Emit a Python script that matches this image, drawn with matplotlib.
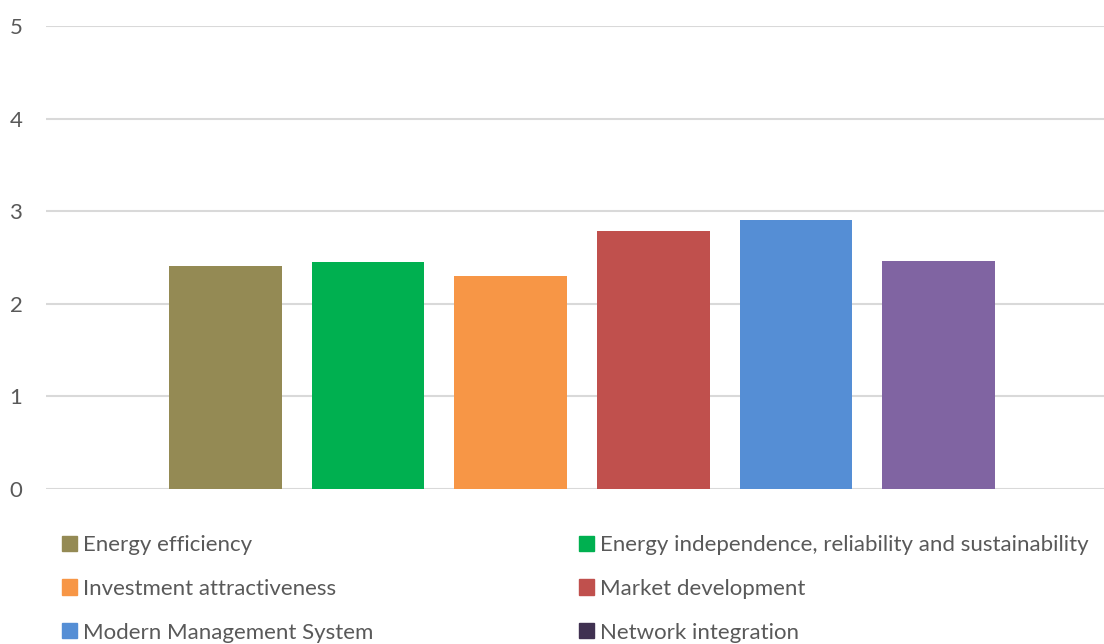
import matplotlib
matplotlib.use("Agg")
from matplotlib import pyplot as plt

# bar scores, in drawing order
bar_colors = ["#948A54", "#00B050", "#F79646", "#C0504D", "#558ED5", "#8064A2", "#403151"]
values = [2.41, 2.45, 2.30, 2.79, 2.90, 2.46, 0.0]

# legend entries (left column, then right column)
left_names = ["Energy efficiency", "Investment attractiveness", "Modern Management System"]
left_colors = ["#948A54", "#F79646", "#558ED5"]
right_names = ["Energy independence, reliability and sustainability",
               "Market development", "Network integration"]
right_colors = ["#00B050", "#C0504D", "#403151"]
yticks = [0, 1, 2, 3, 4, 5]

plt.rcParams['font.family'] = ['Lato', 'DejaVu Sans']
grey = "#595959"
fs = 16

fig = plt.figure(figsize=(11.04, 6.44), dpi=100)
ax = fig.add_axes([46/1104, 155/644, 1 - 46/1104, 463/644])

for i, (v, c) in enumerate(zip(values, bar_colors)):
    ax.bar(i, v, width=0.79, color=c, zorder=3)

ax.set_xlim(-1.259, 6.16)
ax.set_ylim(0, 5)
ax.set_yticks(yticks)
ax.set_xticks([])
ax.yaxis.grid(True, color="#D9D9D9", linewidth=1.5, zorder=0)
ax.tick_params(axis='y', length=0, pad=17, labelsize=fs, labelcolor=grey)
for s in ax.spines.values():
    s.set_visible(False)

# two legend columns, placed separately
opts = dict(frameon=False, fontsize=fs, handlelength=0.68, handleheight=0.68,
            handletextpad=0.25, labelspacing=1.07, borderpad=0, borderaxespad=0,
            labelcolor=grey, loc="upper left")
lh = [plt.Rectangle((0, 0), 1, 1, color=c) for c in left_colors]
rh = [plt.Rectangle((0, 0), 1, 1, color=c) for c in right_colors]
fig.legend(lh, left_names, bbox_to_anchor=(62/1104, 1 - 535/644), **opts)
fig.legend(rh, right_names, bbox_to_anchor=(579/1104, 1 - 535/644), **opts)

fig.savefig("out.png", dpi=100)
